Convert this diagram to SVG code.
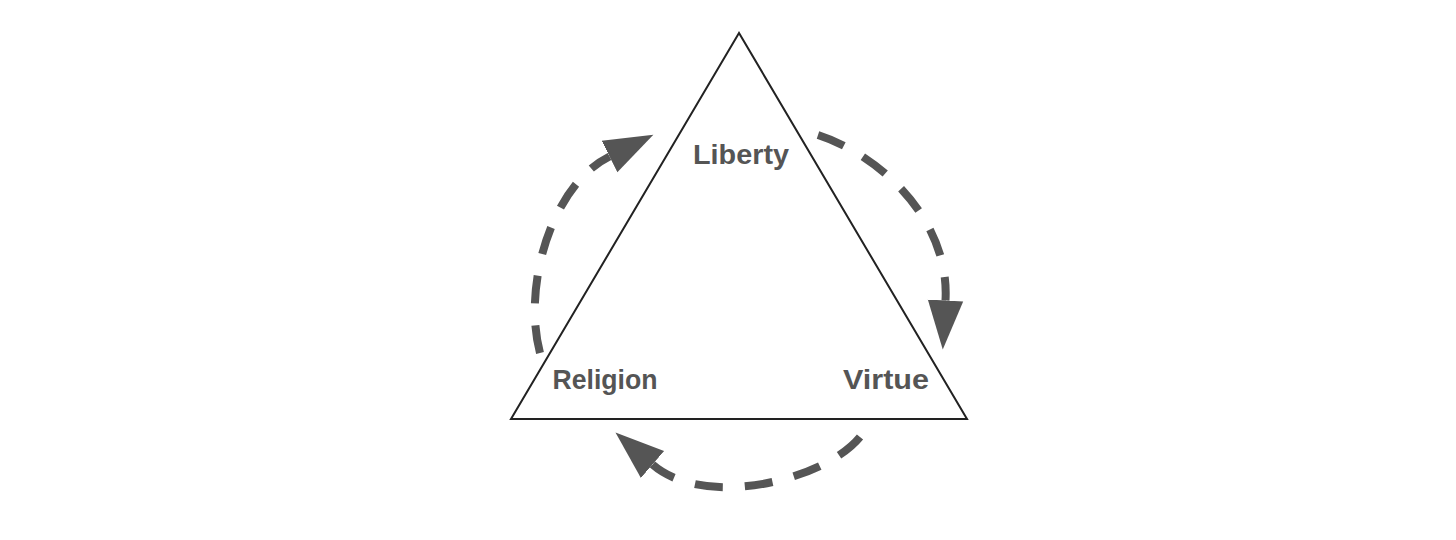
<svg xmlns="http://www.w3.org/2000/svg" width="1456" height="540" viewBox="0 0 1456 540">
  <style>
    .tri { fill: none; stroke: #222; stroke-width: 2; stroke-linejoin: miter; }
    .arc { fill: none; stroke: #555; stroke-width: 8; stroke-dasharray: 28 22; }
    .lbl { font-family: "Liberation Sans", Arial, sans-serif; font-weight: bold; font-size: 28px; fill: #555; text-anchor: middle; }
  </style>
  <defs>
    <marker id="head" markerUnits="userSpaceOnUse" markerWidth="50" markerHeight="40" refX="0" refY="17" orient="auto" viewBox="0 0 48 34">
      <path d="M0,0 L47,17 L0,34 Z" fill="#555"/>
    </marker>
  </defs>
  <rect width="1456" height="540" fill="#fff"/>
  <g id="triangle">
    <polygon class="tri" points="739,33 511,419 967,419"/>
  </g>
  <g id="liberty">
    <text class="lbl" x="741" y="164" textLength="96" lengthAdjust="spacingAndGlyphs">Liberty</text>
  </g>
  <g id="religion">
    <text class="lbl" x="605" y="389" textLength="105" lengthAdjust="spacingAndGlyphs">Religion</text>
  </g>
  <g id="virtue">
    <text class="lbl" x="886" y="389" textLength="86" lengthAdjust="spacingAndGlyphs">Virtue</text>
  </g>
  <g id="connectors">
    <path class="arc" d="M540,353 C522,285 552,185 609.5,156.5" marker-end="url(#head)"/>
    <path class="arc" d="M818,135 C880,155 950,220 945.5,300.5" marker-end="url(#head)"/>
    <path class="arc" d="M860,437 C825,480 705,510 652.5,464.5" marker-end="url(#head)"/>
  </g>
</svg>
